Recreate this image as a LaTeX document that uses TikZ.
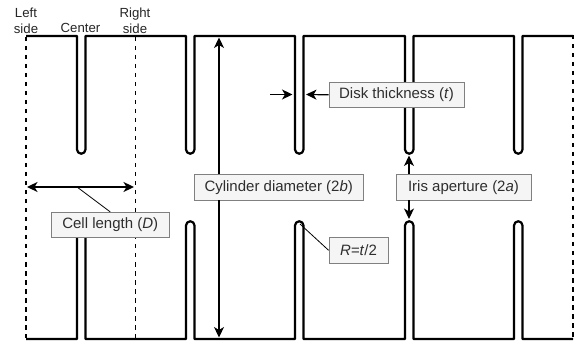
\documentclass[tikz,border=0pt]{standalone}
\usepackage{fontspec}
\setmainfont{Liberation Sans}
\usetikzlibrary{arrows.meta}
\tikzset{
  wall/.style={line width=2.2pt,line join=round,line cap=butt,black},
  cut/.style={line width=1.2pt,black,dash pattern=on 4.5pt off 4.5pt},
  cutthin/.style={line width=0.9pt,black,dash pattern=on 4.5pt off 4.5pt},
  dim/.style={line width=1.2pt,black,-{Stealth[length=10.5pt,width=10pt,inset=3pt]}},
  dimthick/.style={line width=1.5pt,black,{Stealth[length=10.5pt,width=10pt,inset=3pt]}-{Stealth[length=10.5pt,width=10pt,inset=3pt]}},
  leader/.style={line width=0.8pt,black},
  lab/.style={draw=black!50,line width=0.8pt,fill=black!4,text=black!82,font=\fontsize{15}{15}\selectfont,inner sep=0pt,anchor=center},
  head/.style={text=black!85,font=\fontsize{13.2}{16}\selectfont,align=center,inner sep=0pt},
}
\begin{document}
\begin{tikzpicture}[x=1pt,y=-1pt]
\useasboundingbox (0,0) rectangle (580,344);
% cut planes
\coordinate (lt) at (26,37); \coordinate (lb) at (26,338);
\coordinate (ct) at (135,37); \coordinate (cb) at (135,338);
\coordinate (rt) at (573,35); \coordinate (rb) at (573,338);
\draw[cut] (lt) -- (lb);
\draw[cutthin] (ct) -- (cb);
\draw[cut] (rt) -- (rb);
% walls
\draw[wall] (26,36)
  -- (77,36) -- (77,149.5) arc[start angle=180,end angle=0,radius=4.25] -- (85.5,36)
  -- (186,36) -- (186,149.5) arc[start angle=180,end angle=0,radius=4.25] -- (194.5,36)
  -- (295,36) -- (295,149.5) arc[start angle=180,end angle=0,radius=4.25] -- (303.5,36)
  -- (405,36) -- (405,149.5) arc[start angle=180,end angle=0,radius=4.25] -- (413.5,36)
  -- (514,36) -- (514,149.5) arc[start angle=180,end angle=0,radius=4.25] -- (522.5,36)
  -- (573,36);
\draw[wall] (26,339)
  -- (77,339) -- (77,225.5) arc[start angle=180,end angle=360,radius=4.25] -- (85.5,339)
  -- (186,339) -- (186,225.5) arc[start angle=180,end angle=360,radius=4.25] -- (194.5,339)
  -- (295,339) -- (295,225.5) arc[start angle=180,end angle=360,radius=4.25] -- (303.5,339)
  -- (405,339) -- (405,225.5) arc[start angle=180,end angle=360,radius=4.25] -- (413.5,339)
  -- (514,339) -- (514,225.5) arc[start angle=180,end angle=360,radius=4.25] -- (522.5,339)
  -- (573,339);
% free ends
\coordinate (cyltop) at (219,37.5); \coordinate (cylbot) at (219,337.5);
\coordinate (thkA) at (270,94.5); \coordinate (thkAend) at (292.5,94.5);
\coordinate (thkB) at (306,94.5);
\coordinate (irisT) at (409,155.5); \coordinate (irisB) at (409,219);
\coordinate (cellL) at (27,187); \coordinate (cellR) at (134,187);
\coordinate (cellM) at (77,187);
\coordinate (tip) at (300,224);
% labels
\node[head] (nleft) at (26,20.5) {Left\\side};
\node[head] (ncenter) at (80.5,28) {Center};
\node[head] (nright) at (135,20.5) {Right\\side};
\node[lab,minimum width=135pt,minimum height=25.5pt] (disk) at (396.5,94.8) {Disk thickness (\textit{t})};
\node[lab,minimum width=118.5pt,minimum height=25.5pt] (cell) at (110.2,225) {Cell length (\textit{D})};
\node[lab,minimum width=168.5pt,minimum height=25.5pt] (cyl) at (278.7,187.3) {Cylinder diameter (2\textit{b})};
\node[lab,minimum width=135pt,minimum height=25.5pt] (iris) at (463.5,187.3) {Iris aperture (2\textit{a})};
\node[lab,minimum width=59pt,minimum height=25.5pt] (rad) at (358.5,250.3) {\textit{R=t}/2};
% connectors
\draw[dim] (cyl.north -| cyltop) -- (cyltop);
\draw[dim] (cyl.south -| cylbot) -- (cylbot);
\draw[dim] (thkA) -- (thkAend);
\draw[dim] (disk.west) -- (thkB);
\draw[dim] (iris.north -| irisT) -- (irisT);
\draw[dim] (iris.south -| irisB) -- (irisB);
\draw[dimthick] (cellL) -- (cellR);
\draw[leader] (cellM) -- (cell.north);
\draw[leader] (tip) -- (rad.west);
\end{tikzpicture}
\end{document}
